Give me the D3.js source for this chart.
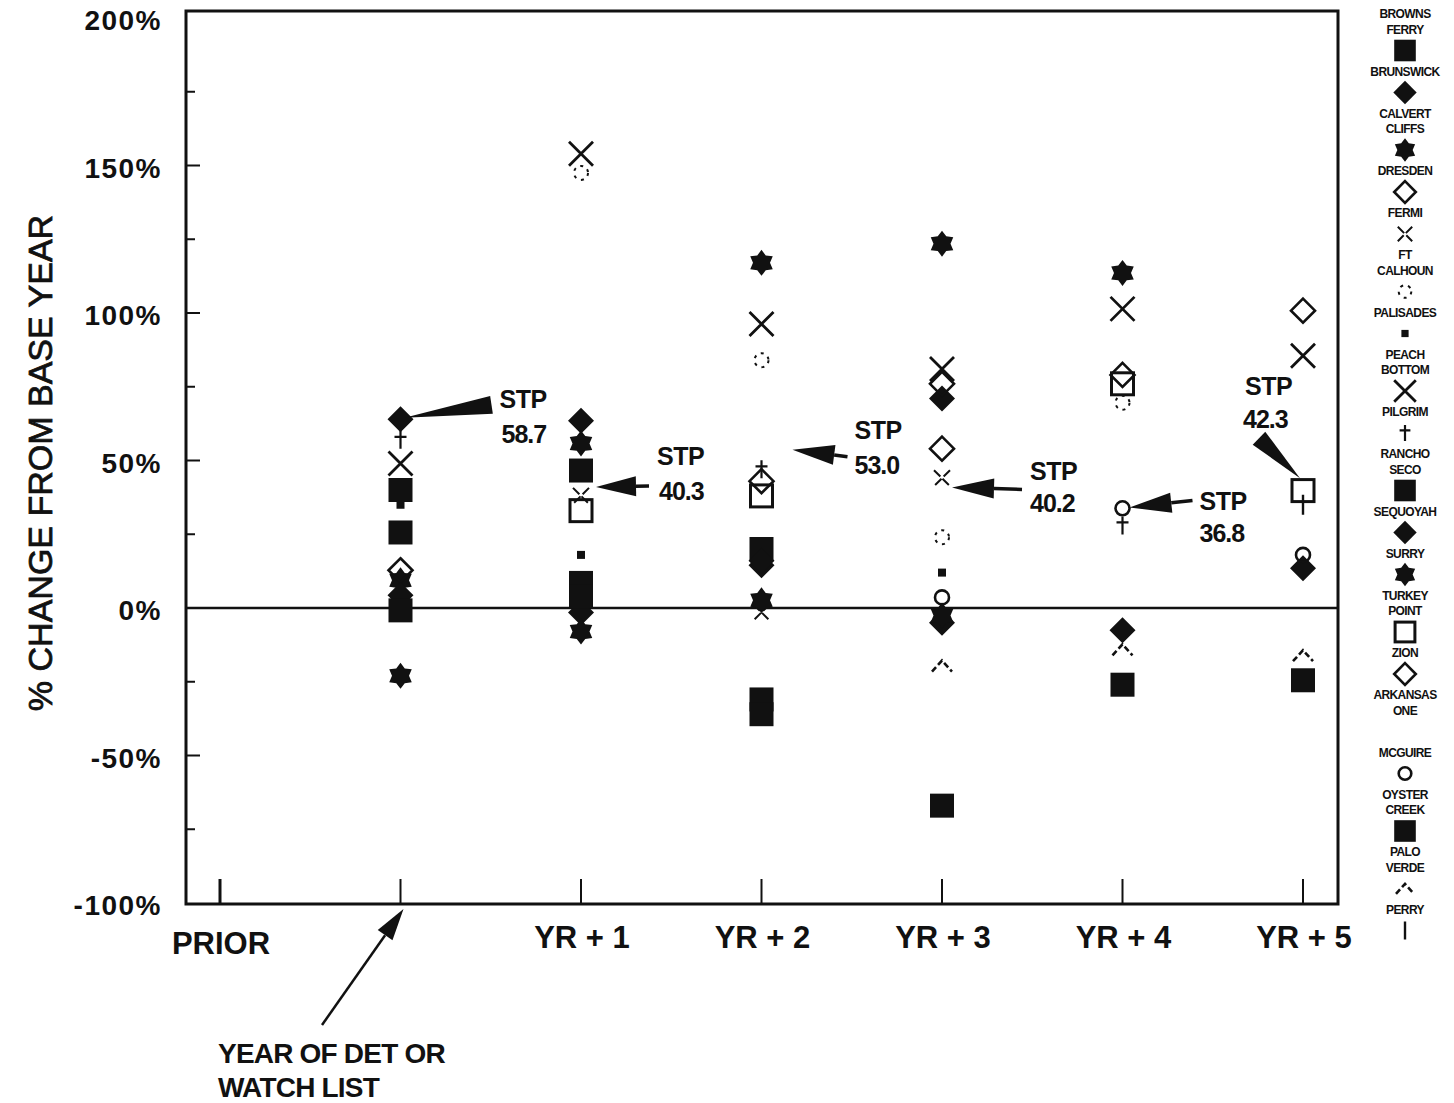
<!DOCTYPE html>
<html><head><meta charset="utf-8">
<script src="https://cdn.jsdelivr.net/npm/d3@7"></script>
<style>body{margin:0;background:#fff}svg{display:block}text{font-family:"Liberation Sans",Arial,sans-serif;fill:#111}</style>
</head><body>
<svg id="c" width="1454" height="1103"></svg>
<script>
// ---------- DATA ----------
const categories = ["PRIOR", "YEAR OF DET", "YR + 1", "YR + 2", "YR + 3", "YR + 4", "YR + 5"];
const xTickLabels = ["PRIOR", "", "YR + 1", "YR + 2", "YR + 3", "YR + 4", "YR + 5"];
const yTickValues = [-100, -50, 0, 50, 100, 150, 200];
const yTickLabels = ["-100%", "-50%", "0%", "50%", "100%", "150%", "200%"];
const yMinorTicks = [-75, -25, 25, 75, 125, 175];

const stationNames = ["BROWNS\nFERRY", "BRUNSWICK", "CALVERT\nCLIFFS", "DRESDEN", "FERMI", "FT\nCALHOUN",
  "PALISADES", "PEACH\nBOTTOM", "PILGRIM", "RANCHO\nSECO", "SEQUOYAH", "SURRY", "TURKEY\nPOINT", "ZION",
  "ARKANSAS\nONE", "MCGUIRE", "OYSTER\nCREEK", "PALO\nVERDE", "PERRY"];
const stationSymbols = ["fsq", "fdia", "fstar", "odia", "smallx", "dotcirc", "dot", "bigx", "tick", "fsq",
  "fdia", "fstar", "osq", "odia", "none", "ocirc", "fsq", "chevron", "vline"];

// % change from base year, per station, in category order (PRIOR ... YR + 5)
const brownsFerry   = [null, 25.6, 8.5, -31, -67, -26, -24.5];
const brunswick     = [null, 64, 63.5, 14.5, -5, -7.5, 13.5];
const calvertCliffs = [null, 9.4, 55.8, 117, 123.5, 113.6, null];
const dresden       = [null, 12.8, null, 43, 54, 79, 100.8];
const fermi         = [null, null, 38, -1.5, 44, null, null];
const ftCalhoun     = [null, null, 147.5, 84, 24, 69.6, null];
const palisades     = [null, 35, 18, null, 12, null, null];
const peachBottom   = [null, 49, 154, 96.3, 81, 101.4, 85.5];
const pilgrim       = [null, 57, null, 47, null, 28, null];
const ranchoSeco    = [null, 40, 46.6, 20, null, null, null];
const sequoyah      = [null, 4.3, -1.5, 16, 71, null, null];
const surry         = [null, -23, -8, 2.6, -2.5, null, null];
const turkeyPoint   = [null, null, 33, 38, null, 76, 39.8];
const zion          = [null, null, null, null, 76, null, null];
const arkansasOne   = [null, null, null, null, null, null, null];
const mcguire       = [null, null, null, null, 3.6, 33.8, 18];
const oysterCreek   = [null, -0.8, 4, -36, null, null, null];
const paloVerde     = [null, null, null, null, -19.5, -14, -16];
const perry         = [null, null, null, null, null, null, 35];
const stationValues = [brownsFerry, brunswick, calvertCliffs, dresden, fermi, ftCalhoun, palisades,
  peachBottom, pilgrim, ranchoSeco, sequoyah, surry, turkeyPoint, zion, arkansasOne, mcguire,
  oysterCreek, paloVerde, perry];

const stpCategories = ["YEAR OF DET", "YR + 1", "YR + 2", "YR + 3", "YR + 4", "YR + 5"];
const stpValues = [58.7, 40.3, 53.0, 40.2, 36.8, 42.3];

// ---------- LAYOUT ----------
const svg = d3.select("#c");
const frame = {l: 186, r: 1338, t: 11, b: 904};
const x = d3.scalePoint().domain(categories).range([220, 1303]);
const y = d3.scaleLinear().domain([-100, 200]).range([903, 18]);

// frame
svg.append("rect").attr("x", frame.l).attr("y", frame.t)
  .attr("width", frame.r - frame.l).attr("height", frame.b - frame.t)
  .attr("fill", "none").attr("stroke", "#111").attr("stroke-width", 3);

// zero line
svg.append("line").attr("x1", frame.l).attr("x2", frame.r)
  .attr("y1", y(0)).attr("y2", y(0)).attr("stroke", "#111").attr("stroke-width", 2.6);

// y ticks
svg.selectAll(".ymaj").data(yTickValues.filter(v => v > -100 && v < 200)).enter().append("line")
  .attr("x1", frame.l).attr("x2", frame.l + 14).attr("y1", d => y(d)).attr("y2", d => y(d))
  .attr("stroke", "#111").attr("stroke-width", 2);
svg.selectAll(".ymin").data(yMinorTicks).enter().append("line")
  .attr("x1", frame.l).attr("x2", frame.l + 9).attr("y1", d => y(d)).attr("y2", d => y(d))
  .attr("stroke", "#111").attr("stroke-width", 2);
svg.selectAll(".ylab").data(yTickValues).enter().append("text")
  .attr("x", 162).attr("y", (d) => y(d) + 5).attr("text-anchor", "end")
  .attr("dominant-baseline", "middle").attr("font-size", 28).attr("font-weight", "bold")
  .attr("letter-spacing", 1.5)
  .text((d, i) => yTickLabels[i]);

// y title
svg.append("text").attr("transform", "translate(43,463) rotate(-90)")
  .attr("text-anchor", "middle").attr("dominant-baseline", "middle")
  .attr("font-size", 34).attr("stroke", "#111").attr("stroke-width", 0.8)
  .text("% CHANGE FROM BASE YEAR");

// x ticks
svg.selectAll(".xt").data(categories).enter().append("line")
  .attr("x1", d => x(d)).attr("x2", d => x(d)).attr("y1", frame.b).attr("y2", frame.b - 25)
  .attr("stroke", "#111").attr("stroke-width", (d, i) => i === 0 ? 3 : 2);
svg.selectAll(".xl").data(categories).enter().append("text")
  .attr("x", d => x(d) + 1).attr("y", (d, i) => i === 0 ? 954 : 948)
  .attr("text-anchor", "middle").attr("font-size", 31).attr("font-weight", "bold")
  .text((d, i) => xTickLabels[i]);

// ---------- SYMBOLS ----------
function star(ro, ri) {
  const pts = [];
  for (let k = 0; k < 12; k++) {
    const a = -Math.PI / 2 + k * Math.PI / 6, r = k % 2 ? ri : ro;
    pts.push([r * Math.cos(a), r * Math.sin(a)]);
  }
  return "M" + pts.map(p => p.join(",")).join("L") + "Z";
}
function drawSymbol(g, type, s) {
  s = s || 1;
  const blk = "#111";
  switch (type) {
    case "fsq": g.append("rect").attr("x", -12 * s).attr("y", -12 * s).attr("width", 24 * s).attr("height", 24 * s).attr("fill", blk); break;
    case "fdia": g.append("path").attr("d", `M0,${-13 * s}L${13 * s},0L0,${13 * s}L${-13 * s},0Z`).attr("fill", blk); break;
    case "fstar": g.append("path").attr("d", star(13 * s, 8.5 * s)).attr("fill", blk); break;
    case "odia": g.append("path").attr("d", `M0,${-12 * s}L${12 * s},0L0,${12 * s}L${-12 * s},0Z`).attr("fill", "none").attr("stroke", blk).attr("stroke-width", 2.6); break;
    case "smallx": g.append("path").attr("d", `M${-8 * s},${-8 * s}L${8 * s},${8 * s}M${8 * s},${-8 * s}L${-8 * s},${8 * s}`).attr("stroke", blk).attr("stroke-width", 2).attr("stroke-dasharray", "9,3"); break;
    case "dotcirc": g.append("circle").attr("r", 7 * s).attr("fill", "none").attr("stroke", blk).attr("stroke-width", 2).attr("stroke-dasharray", "3,5"); break;
    case "dot": g.append("rect").attr("x", -4 * s).attr("y", -4 * s).attr("width", 8 * s).attr("height", 8 * s).attr("fill", blk); break;
    case "bigx": g.append("path").attr("d", `M${-12 * s},${-12 * s}L${12 * s},${12 * s}M${12 * s},${-12 * s}L${-12 * s},${12 * s}`).attr("stroke", blk).attr("stroke-width", 2.8); break;
    case "tick": g.append("path").attr("d", `M0,${-9 * s}L0,${9 * s}M${-6 * s},${-3 * s}L${6 * s},${-3 * s}`).attr("stroke", blk).attr("stroke-width", 2.2); break;
    case "osq": g.append("rect").attr("x", -11 * s).attr("y", -11 * s).attr("width", 22 * s).attr("height", 22 * s).attr("fill", "none").attr("stroke", blk).attr("stroke-width", 3); break;
    case "ocirc": g.append("circle").attr("r", 7 * s).attr("fill", "none").attr("stroke", blk).attr("stroke-width", 2.6); break;
    case "chevron": g.append("path").attr("d", `M${-10 * s},${6 * s}L0,${-5 * s}L${10 * s},${6 * s}`).attr("fill", "none").attr("stroke", blk).attr("stroke-width", 2.6).attr("stroke-dasharray", "6,3"); break;
    case "vline": g.append("path").attr("d", `M0,${-10 * s}L0,${10 * s}`).attr("stroke", blk).attr("stroke-width", 2.4); break;
  }
}

// ---------- POINTS ----------
stationValues.forEach((vals, si) => {
  vals.forEach((v, ci) => {
    if (v === null) return;
    const g = svg.append("g").attr("transform", `translate(${x(categories[ci])},${y(v)})`);
    drawSymbol(g, stationSymbols[si], 1);
  });
});

// ---------- STP ANNOTATIONS ----------
const stpLayout = [
  {dx: 4, dy: -17, tail: [87, -13], head: 999, hw: 9, tx: [95, 97], ty: [-10, 25]},
  {dx: 15, dy: -2, tail: [53, -1], head: 40, hw: 10, tx: [61, 63], ty: [-22, 13]},
  {dx: 31, dy: -2, tail: [55, 7], head: 42, hw: 10, tx: [62, 62], ty: [-11, 24]},
  {dx: 10, dy: -2, tail: [70, 2], head: 42, hw: 10, tx: [78, 78], ty: [-7, 25]},
  {dx: 7, dy: 8, tail: [63, -7], head: 42, hw: 10, tx: [70, 70], ty: [3, 35]},
  {dx: -3, dy: -5, tail: [-41, -40], head: 999, hw: 9, tx: [-55, -57], ty: [-83, -50]}
];
function arrow(tip, tail, head, hw, lw) {
  const dxv = tail[0] - tip[0], dyv = tail[1] - tip[1], L = Math.hypot(dxv, dyv);
  const ux = dxv / L, uy = dyv / L, px = -uy, py = ux;
  const h = Math.min(head, L);
  const bx = tip[0] + ux * h, by = tip[1] + uy * h;
  svg.append("path").attr("d", `M${tip[0]},${tip[1]}L${bx + px * hw},${by + py * hw}L${bx - px * hw},${by - py * hw}Z`).attr("fill", "#111");
  if (h < L) svg.append("line").attr("x1", bx).attr("y1", by).attr("x2", tail[0]).attr("y2", tail[1]).attr("stroke", "#111").attr("stroke-width", lw || 3.5);
}
stpValues.forEach((v, i) => {
  const L = stpLayout[i];
  const tip = [x(stpCategories[i]) + L.dx, y(v) + L.dy];
  arrow(tip, [tip[0] + L.tail[0], tip[1] + L.tail[1]], L.head, L.hw);
  svg.append("text").attr("x", tip[0] + L.tx[0]).attr("y", tip[1] + L.ty[0])
    .attr("font-size", 25).attr("font-weight", "bold").attr("letter-spacing", -0.5).text("STP");
  svg.append("text").attr("x", tip[0] + L.tx[1]).attr("y", tip[1] + L.ty[1])
    .attr("font-size", 25).attr("font-weight", "bold").attr("letter-spacing", -1).text(d3.format(".1f")(v));
});

// year of det arrow + label
const detX = x("YEAR OF DET");
arrow([detX + 3, frame.b + 5], [322, 1025], 32, 9, 2.5);
svg.append("text").attr("x", 218).attr("y", 1063).attr("font-size", 28).attr("font-weight", "bold")
  .attr("letter-spacing", -0.8).text("YEAR OF DET OR");
svg.append("text").attr("x", 218).attr("y", 1097).attr("font-size", 28).attr("font-weight", "bold")
  .attr("letter-spacing", -0.8).text("WATCH LIST");

// ---------- LEGEND ----------
const lg = svg.append("g");
let cy = 15;
stationNames.forEach((name, i) => {
  const lines = name.split("\n");
  lines.forEach((ln, j) => {
    lg.append("text").attr("x", 1405).attr("y", cy).attr("text-anchor", "middle")
      .attr("dominant-baseline", "middle").attr("font-size", 12).attr("font-weight", "bold")
      .attr("letter-spacing", -0.6).text(ln);
    if (j < lines.length - 1) cy += 15.5;
  });
  const g = lg.append("g").attr("transform", `translate(1405,${cy + 20})`);
  drawSymbol(g, stationSymbols[i], 0.9);
  cy += 42;
});
</script>
</body></html>
